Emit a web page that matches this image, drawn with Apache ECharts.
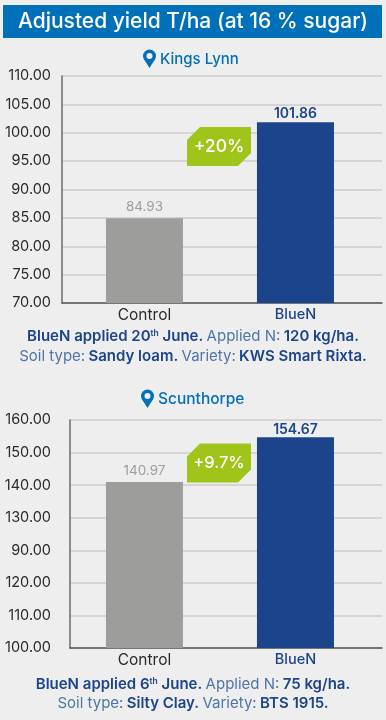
<!DOCTYPE html>
<html>
<head>
<meta charset="utf-8">
<style>html,body{margin:0;padding:0;background:#eeeeee}#c{width:386px;height:720px}</style>
<script src="https://cdn.jsdelivr.net/npm/echarts@6/dist/echarts.min.js"></script>
</head>
<body>
<div id="c"></div>
<script>
const categories = ['Control', 'BlueN'];
const kingsLynnValues = [84.93, 101.86];
const scunthorpeValues = [140.97, 154.67];
const kingsLynnTicks = ['70.00','75.00','80.00','85.00','90.00','95.00','100.00','105.00','110.00'];
const scunthorpeTicks = ['100.00','110.00','120.00','90.00','130.00','140.00','150.00','160.00'];
const FONT = 'Inter';
const BLUE = '#1c448a', GREY = '#9d9d9c', LIGHT = '#4f74a8', CYAN = '#0070b9';

function yAxis(i, min, max, interval, ticks, margin) {
  return {
    type: 'value', gridIndex: i, min, max, interval,
    axisLine: {show: true, onZero: false, lineStyle: {color: '#6b6b6b', width: 1.5}},
    axisTick: {show: false},
    splitLine: {show: true, lineStyle: {color: '#cfcbcb', width: 1.5}},
    axisLabel: {
      margin, color: '#2b2b2b', fontFamily: FONT, fontSize: 14.5,
      formatter: (v) => ticks[Math.round((v - min) / interval)]
    }
  };
}
function xAxis(i, min, max) {
  return {
    type: 'value', gridIndex: i, min, max,
    axisLine: {show: true, onZero: false, lineStyle: {color: '#555', width: 1.5}},
    axisTick: {show: false},
    splitLine: {show: false},
    axisLabel: {
      customValues: [0, 1], margin: 4, fontFamily: FONT, fontSize: 15, showMinLabel: true, showMaxLabel: true,
      formatter: (v) => v === 1 ? '{b|' + categories[1] + '}' : '{a|' + categories[0] + '}',
      rich: {
        a: {color: '#2b2b2b', fontFamily: FONT, fontSize: 15.5},
        b: {color: BLUE, fontFamily: FONT, fontSize: 14.5, fontWeight: 500}
      }
    }
  };
}
function barSeries(i, values) {
  return {
    type: 'bar', xAxisIndex: i, yAxisIndex: i, barWidth: 77, animation: false,
    data: values.map((v, k) => ({
      value: [k, v],
      itemStyle: {color: k === 1 ? BLUE : GREY},
      label: {
        show: true, position: 'top', distance: k === 1 ? 1 : 4,
        color: k === 1 ? BLUE : GREY, fontFamily: FONT, fontSize: k === 1 ? 14 : 13.5,
        fontWeight: k === 1 ? 600 : 400,
        formatter: v.toFixed(2)
      }
    }))
  };
}
function badge(y, txt, size) {
  return [
    {type: 'polygon', silent: true, z: 10, shape: {points: [[187,y+13],[200,y],[251,y],[251,y+26],[238,y+39],[187,y+39]]}, style: {fill: '#9fc41a'}},
    {type: 'text', silent: true, z: 11, x: 219, y: y + 19.5, style: {text: txt, fill: '#fff', font: '500 ' + size + 'px ' + FONT, align: 'center', verticalAlign: 'middle'}}
  ];
}
function place(pinX, y, name, textX, size) {
  const cx = pinX + 6.5, cy = y - 3;
  return [
    {type: 'polygon', silent: true, z: 10, shape: {points: [[cx-6,cy+2.6],[cx,y+9],[cx+6,cy+2.6]]}, style: {fill: CYAN}},
    {type: 'circle', silent: true, z: 10, shape: {cx, cy, r: 6.5}, style: {fill: CYAN}},
    {type: 'circle', silent: true, z: 11, shape: {cx, cy, r: 3}, style: {fill: '#eeeeee'}},
    {type: 'text', silent: true, z: 10, x: textX, y: y, style: {text: name, fill: CYAN, font: '500 ' + size + 'px ' + FONT, align: 'left', verticalAlign: 'middle'}}
  ];
}
const rich = {
  b: {fill: BLUE, font: '600 15px ' + FONT},
  r: {fill: LIGHT, font: '400 15px ' + FONT},
  s: {fill: BLUE, font: '600 8.5px ' + FONT, verticalAlign: 'top', padding: [0,0,6,0]}
};
function foot(y, txt) {
  return {type: 'text', silent: true, z: 10, x: 193, y: y, style: {text: txt, rich, align: 'center', verticalAlign: 'middle'}};
}

const chart = echarts.init(document.getElementById('c'), null, {renderer: 'canvas'});
chart.setOption({
  backgroundColor: '#eeeeee',
  animation: false,
  grid: [
    {left: 62, top: 76, width: 320, height: 227},
    {left: 70, top: 420, width: 312, height: 228}
  ],
  xAxis: [xAxis(0, -0.546, 1.573), xAxis(1, -0.493, 1.573)],
  yAxis: [
    yAxis(0, 70, 110, 5, kingsLynnTicks, 11),
    yAxis(1, 90, 160, 10, scunthorpeTicks, 19)
  ],
  series: [barSeries(0, kingsLynnValues), barSeries(1, scunthorpeValues)],
  graphic: [
    {type: 'rect', silent: true, z: 9, shape: {x: 3, y: 5, width: 379, height: 33}, style: {fill: CYAN}},
    {type: 'text', silent: true, z: 10, x: 193, y: 22, style: {text: 'Adjusted yield T/ha (at 16 % sugar)', fill: '#fff', font: '500 21px ' + FONT, align: 'center', verticalAlign: 'middle'}},
    ...place(143, 59, 'Kings Lynn', 160, 15),
    ...place(141, 399, 'Scunthorpe', 158, 15.5),
    ...badge(127, '+20%', 17.5),
    ...badge(443.5, '+9.7%', 16.5),
    foot(336.5, '{b|BlueN applied 20}{s|th}{b| June.} {r|Applied N:} {b|120 kg/ha.}'),
    foot(356, '{r|Soil type:} {b|Sandy loam.} {r|Variety:} {b|KWS Smart Rixta.}'),
    foot(684, '{b|BlueN applied 6}{s|th}{b| June.} {r|Applied N:} {b|75 kg/ha.}'),
    foot(703, '{r|Soil type:} {b|Silty Clay.} {r|Variety:} {b|BTS 1915.}')
  ]
});
</script>
</body>
</html>
